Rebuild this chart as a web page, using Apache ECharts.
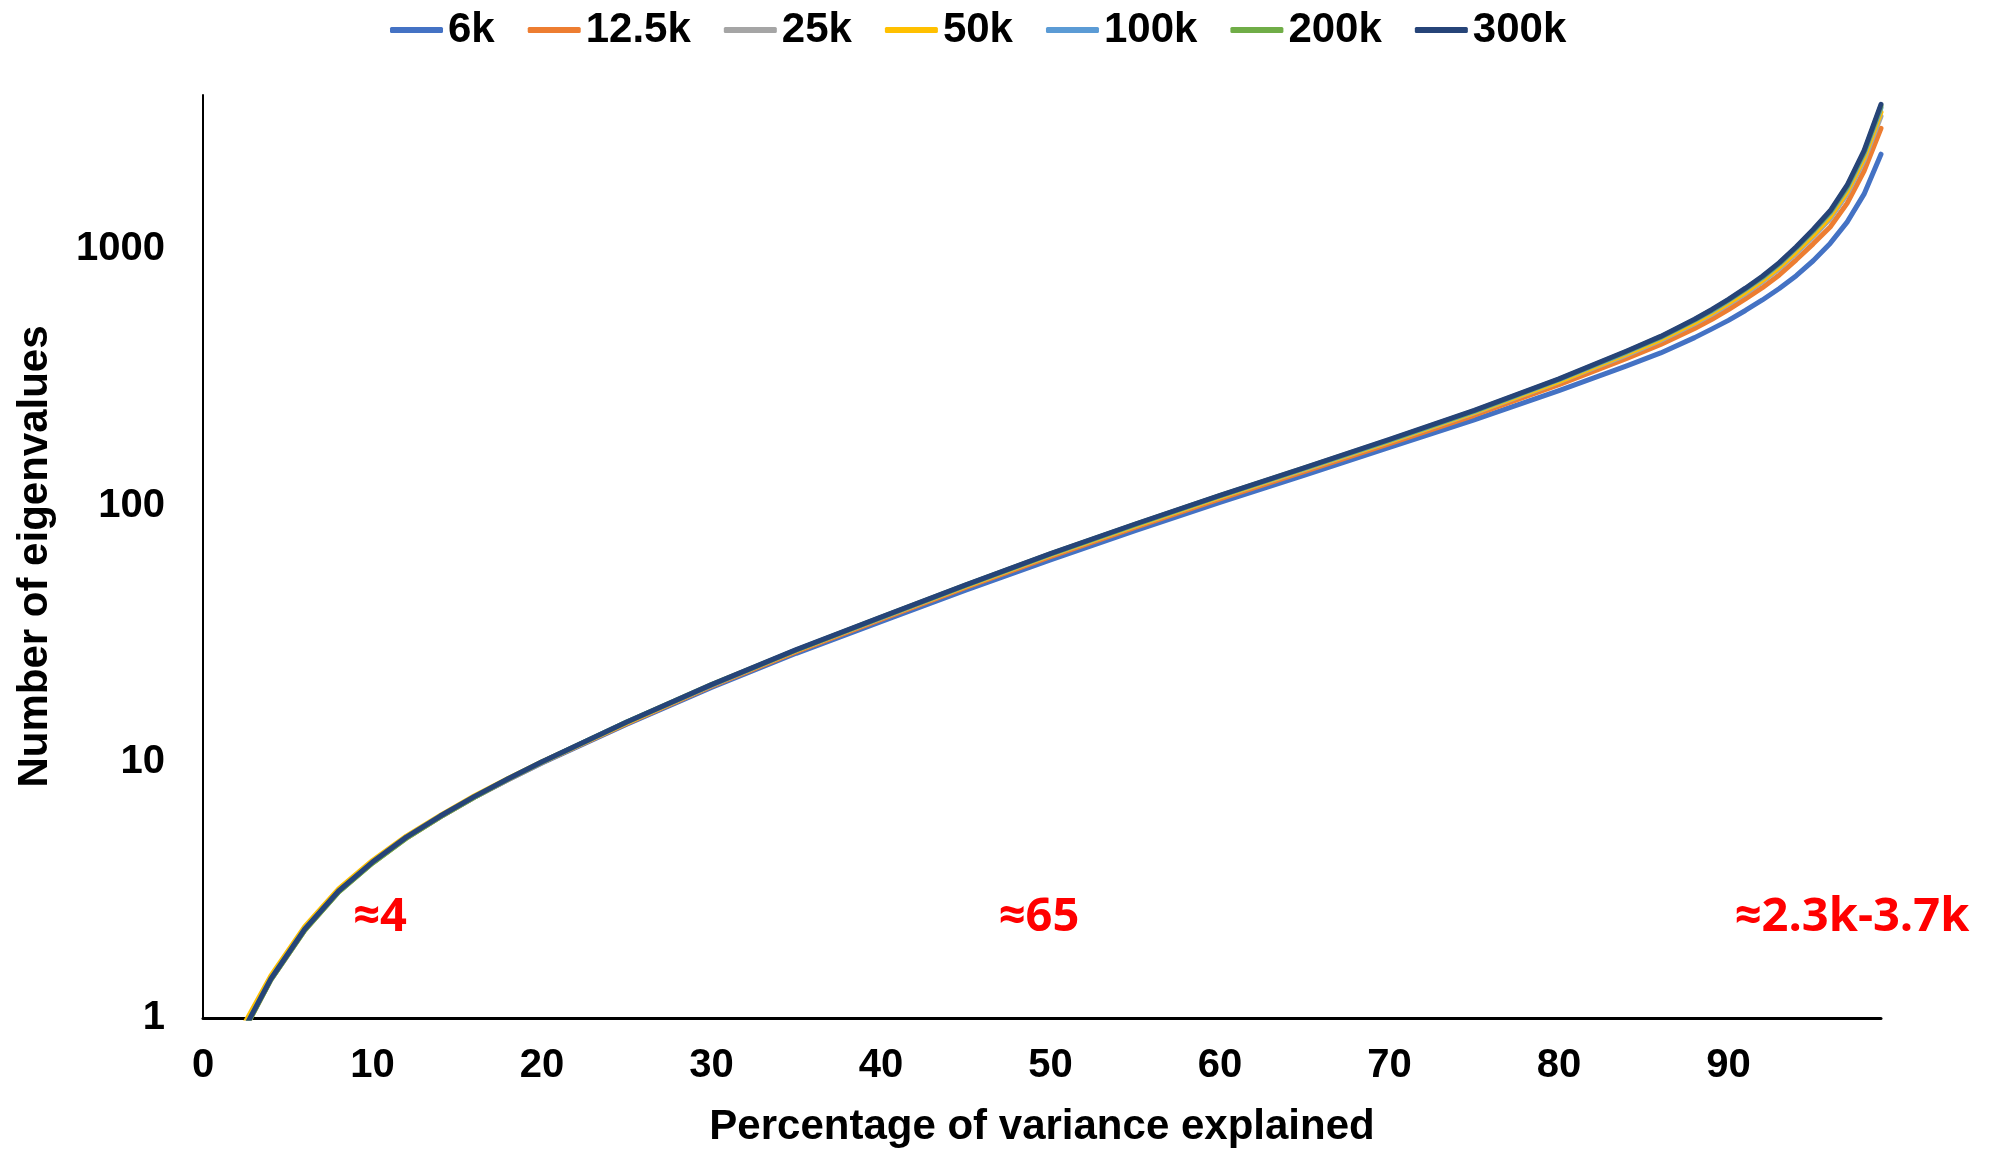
<!DOCTYPE html>
<html>
<head>
<meta charset="utf-8">
<script src="https://cdn.jsdelivr.net/npm/echarts@6/dist/echarts.min.js"></script>
<style>
  html, body { margin: 0; padding: 0; background: #fff; }
  #chart { width: 1990px; height: 1153px; }
</style>
</head>
<body>
<div id="chart"></div>
<script>
// percentage of variance explained (x)
var pct = [2, 4, 6, 8, 10, 12, 14, 16, 18, 20,
           25, 30, 35, 40, 45, 50, 55, 60, 65, 70, 75, 80,
           84, 86, 88, 89, 90, 91, 92, 93, 94, 95, 96, 97, 98, 99];

// number of eigenvalues needed, one list per sample size
var n6k   = [0.8, 1.42, 2.22, 3.13, 4.04, 5.06, 6.10, 7.26, 8.51, 9.89,
             14.0, 19.5, 26.5, 35.2, 46.7, 61.4, 79.8, 102.8, 131.3, 168.5, 216, 281,
             351, 394, 452, 488, 528, 577, 634, 703, 789, 902, 1054, 1276, 1641, 2350];
var n12k5 = [0.79, 1.41, 2.20, 3.11, 4.03, 5.04, 6.10, 7.26, 8.53, 9.93,
             14.1, 19.7, 26.9, 35.9, 47.9, 63.1, 82.2, 106.1, 135.8, 174.5, 225, 296,
             375, 425, 491, 532, 582, 640, 708, 794, 910, 1050, 1222, 1510, 2018, 2965];
var n25k  = [0.8, 1.41, 2.21, 3.11, 4.04, 5.05, 6.11, 7.27, 8.55, 9.95,
             14.2, 19.9, 27.2, 36.3, 48.4, 64.0, 83.3, 107.8, 138.1, 177.7, 230, 304,
             387, 441, 512, 556, 610, 671, 746, 840, 966, 1119, 1315, 1641, 2218, 3304];
var n50k  = [0.84, 1.46, 2.27, 3.19, 4.12, 5.13, 6.18, 7.35, 8.61, 10.0,
             14.2, 19.9, 27.2, 36.4, 48.4, 64.2, 83.5, 108.1, 138.6, 178.1, 231, 305,
             391, 445, 518, 563, 618, 681, 757, 853, 982, 1140, 1343, 1683, 2280, 3428];
var n100k = [0.8, 1.42, 2.22, 3.12, 4.05, 5.07, 6.13, 7.29, 8.57, 9.98,
             14.3, 19.9, 27.3, 36.5, 48.8, 64.6, 84.3, 109.1, 139.6, 179.7, 233, 310,
             397, 453, 528, 574, 631, 697, 774, 875, 1009, 1175, 1387, 1738, 2360, 3565];
var n200k = [0.79, 1.41, 2.20, 3.10, 4.02, 5.03, 6.09, 7.27, 8.56, 9.98,
             14.3, 20.0, 27.3, 36.6, 48.9, 64.7, 84.4, 109.3, 140.1, 180.3, 234, 311,
             399, 455, 531, 578, 635, 701, 780, 881, 1016, 1183, 1400, 1758, 2393, 3631];
var n300k = [0.8, 1.42, 2.22, 3.13, 4.06, 5.08, 6.14, 7.31, 8.59, 10.0,
             14.3, 20.0, 27.4, 36.7, 49.0, 64.9, 84.7, 109.6, 140.6, 181, 235, 312,
             401, 457, 533, 581, 638, 705, 785, 887, 1023, 1194, 1413, 1778, 2427, 3681];

var names  = ['6k', '12.5k', '25k', '50k', '100k', '200k', '300k'];
var values = [n6k, n12k5, n25k, n50k, n100k, n200k, n300k];
var colors = ['#4472C4', '#ED7D31', '#A5A5A5', '#FFC000', '#5B9BD5', '#70AD47', '#264478'];

var xTicks = [0, 10, 20, 30, 40, 50, 60, 70, 80, 90];
var yTicks = [1, 10, 100, 1000];

var font = '"Liberation Sans", Arial, sans-serif';

var series = names.map(function (name, i) {
    return {
        name: name,
        type: 'line',
        showSymbol: false,
        clip: true,
        lineStyle: { color: colors[i], width: 5, cap: 'round', join: 'round' },
        itemStyle: { color: colors[i] },
        data: pct.map(function (p, j) { return [p, values[i][j]]; })
    };
});

var option = {
    animation: false,
    backgroundColor: '#fff',
    legend: {
        top: 4,
        left: 385,
        icon: 'roundRect',
        itemWidth: 53,
        itemHeight: 6,
        itemGap: 33,
        textStyle: { fontFamily: font, fontWeight: 'bold', fontSize: 42, color: '#000' },
        data: names
    },
    grid: { left: 203, right: 109, top: 95, bottom: 134 },
    xAxis: {
        type: 'value',
        min: 0,
        max: 99,
        interval: 10,
        name: 'Percentage of variance explained',
        nameLocation: 'middle',
        nameGap: 88,
        nameTextStyle: { fontFamily: font, fontWeight: 'bold', fontSize: 42, color: '#000' },
        axisLine: { lineStyle: { color: '#000', width: 3 } },
        axisTick: { show: false },
        splitLine: { show: false },
        axisLabel: {
            margin: 28,
            fontFamily: font, fontWeight: 'bold', fontSize: 40, color: '#000',
            showMaxLabel: false,
            formatter: function (v) { return xTicks.indexOf(v) >= 0 ? String(v) : ''; }
        }
    },
    yAxis: {
        type: 'log',
        logBase: 10,
        min: 1,
        max: 4000,
        name: 'Number of eigenvalues',
        nameLocation: 'middle',
        nameGap: 147,
        nameRotate: 90,
        nameTextStyle: { fontFamily: font, fontWeight: 'bold', fontSize: 42, color: '#000' },
        axisLine: { show: true, lineStyle: { color: '#000', width: 2 } },
        axisTick: { show: false },
        splitLine: { show: false },
        axisLabel: {
            margin: 38,
            fontFamily: font, fontWeight: 'bold', fontSize: 40, color: '#000',
            showMaxLabel: false,
            formatter: function (v) { return yTicks.indexOf(Math.round(v)) >= 0 ? String(Math.round(v)) : ''; }
        }
    },
    graphic: [
        { type: 'text', x: 380, y: 918, style: { text: '≈4', fill: '#FF0000', font: 'bold 47px "Open Sans", sans-serif', textAlign: 'center', textVerticalAlign: 'middle' } },
        { type: 'text', x: 1039, y: 918, style: { text: '≈65', fill: '#FF0000', font: 'bold 47px "Open Sans", sans-serif', textAlign: 'center', textVerticalAlign: 'middle' } },
        { type: 'text', x: 1852, y: 918, style: { text: '≈2.3k-3.7k', fill: '#FF0000', font: 'bold 47px "Open Sans", sans-serif', textAlign: 'center', textVerticalAlign: 'middle' } }
    ],
    series: series
};

var myChart = echarts.init(document.getElementById('chart'));
myChart.setOption(option, true);
</script>
</body>
</html>
